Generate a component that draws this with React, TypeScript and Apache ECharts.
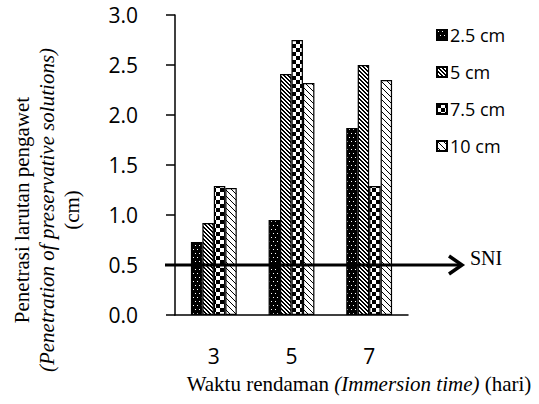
import React, { useEffect, useRef } from "react";
import * as echarts from "echarts";

const categories = ["3", "5", "7"];
const seriesNames = ["2.5 cm", "5 cm", "7.5 cm", "10 cm"];
const values25 = [0.73, 0.95, 1.87];
const values5 = [0.92, 2.41, 2.5];
const values75 = [1.29, 2.75, 1.29];
const values10 = [1.27, 2.32, 2.35];
const yMin = 0;
const yMax = 3;
const yInterval = 0.5;
const sniValue = 0.5;
const sniLabel = "SNI";

function makePattern(kind: string) {
  const c = document.createElement("canvas");
  let w = 4, h = 4;
  if (kind === "dots") { w = 4; h = 8; }
  if (kind === "diag") { w = 4; h = 4; }
  if (kind === "check") { w = 8; h = 8; }
  if (kind === "wdiag") { w = 6; h = 6; }
  c.width = w; c.height = h;
  const ctx = c.getContext("2d")!;
  if (kind === "dots") {
    ctx.fillStyle = "#000"; ctx.fillRect(0, 0, w, h);
    ctx.fillStyle = "#fff";
    ctx.fillRect(1, 1, 1, 1); ctx.fillRect(3, 5, 1, 1);
  } else if (kind === "diag") {
    ctx.fillStyle = "#fff"; ctx.fillRect(0, 0, w, h);
    ctx.fillStyle = "#000";
    for (let i = 0; i < 4; i++) { ctx.fillRect(i, i, 1, 1); ctx.fillRect((i + 1) % 4, i, 1, 1); }
  } else if (kind === "check") {
    ctx.fillStyle = "#fff"; ctx.fillRect(0, 0, w, h);
    ctx.fillStyle = "#000";
    ctx.fillRect(0, 0, 4, 4); ctx.fillRect(4, 4, 4, 4);
  } else {
    ctx.fillStyle = "#fff"; ctx.fillRect(0, 0, w, h);
    ctx.fillStyle = "#000";
    for (let i = 0; i < 6; i++) { ctx.fillRect(i, i, 1, 1); }
  }
  return { image: c, repeat: "repeat", imageWidth: w, imageHeight: h } as any;
}

export default function App() {
  const ref = useRef<HTMLDivElement>(null);
  useEffect(() => {
    const chart = echarts.init(ref.current!, null, { renderer: "svg" });
    const patterns = [makePattern("dots"), makePattern("diag"), makePattern("check"), makePattern("wdiag")];
    const allValues = [values25, values5, values75, values10];
    const sans = "Open Sans";
    const serif = "Liberation Serif";
    chart.setOption({
      animation: false,
      grid: { left: 175, right: 131, top: 15, bottom: 89 },
      legend: {
        orient: "vertical",
        left: 431,
        top: 20,
        itemWidth: 10,
        itemHeight: 10,
        itemGap: 17,
        icon: "rect",
        textStyle: { fontFamily: sans, fontSize: 18, lineHeight: 20, color: "#000", padding: [0, 0, 0, -2] },
        data: seriesNames,
      },
      xAxis: {
        type: "category",
        data: categories,
        axisLine: { lineStyle: { color: "#000", width: 1.5 } },
        axisTick: { show: false },
        axisLabel: { fontFamily: sans, fontSize: 21, lineHeight: 22, color: "#000", margin: 30 },
      },
      yAxis: {
        type: "value",
        min: yMin,
        max: yMax,
        interval: yInterval,
        axisLine: { show: true, lineStyle: { color: "#000", width: 1.5 } },
        axisTick: { show: true, length: 9, lineStyle: { color: "#000", width: 1.5 } },
        splitLine: { show: false },
        axisLabel: {
          fontFamily: sans,
          fontSize: 21,
          color: "#000",
          margin: 37,
          formatter: (v: number) => v.toFixed(1),
        },
      },
      series: seriesNames.map((name, i) => ({
        name,
        type: "bar",
        data: allValues[i],
        barGap: "0%",
        barCategoryGap: "41%",
        itemStyle: { color: patterns[i], borderColor: "#000", borderWidth: 1.2 },
      })),
    });
    const y = chart.convertToPixel({ yAxisIndex: 0 }, sniValue) as number;
    const x0 = 165;
    const tip = 462;
    chart.setOption({
      graphic: [
        {
          type: "polyline",
          shape: { points: [[x0, y], [tip - 1, y]] },
          style: { stroke: "#000", lineWidth: 3, fill: null },
          z: 100,
        },
        {
          type: "polyline",
          shape: { points: [[tip - 13, y - 9], [tip, y], [tip - 13, y + 9]] },
          style: { stroke: "#000", lineWidth: 3.5, fill: null },
          z: 100,
        },
        {
          type: "text",
          x: 470,
          y: y - 7,
          style: { text: sniLabel, fontFamily: serif, fontSize: 20, fill: "#000", verticalAlign: "middle", align: "left" },
        },
        {
          type: "text",
          x: 359,
          y: 384,
          style: {
            text: "{a|Waktu rendaman }{b|(Immersion time)}{a| (hari)}",
            align: "center",
            verticalAlign: "middle",
            rich: {
              a: { fontFamily: serif, fontSize: 21, fill: "#000" },
              b: { fontFamily: serif, fontSize: 21, fill: "#000", fontStyle: "italic" },
            },
          },
        },
        {
          type: "text",
          x: 47,
          y: 210,
          rotation: Math.PI / 2,
          style: {
            text: "{a|Penetrasi larutan pengawet}\n{b|(Penetration of preservative solutions)}\n{a|(cm)}",
            align: "center",
            verticalAlign: "middle",
            rich: {
              a: { fontFamily: serif, fontSize: 21, fill: "#000", lineHeight: 25, align: "center" },
              b: { fontFamily: serif, fontSize: 21, fill: "#000", fontStyle: "italic", lineHeight: 25, align: "center" },
            },
          },
        },
      ],
    });
    return () => chart.dispose();
  }, []);
  return <div ref={ref} style={{ position: "absolute", left: 0, top: 0, width: 539, height: 404 }} />;
}
